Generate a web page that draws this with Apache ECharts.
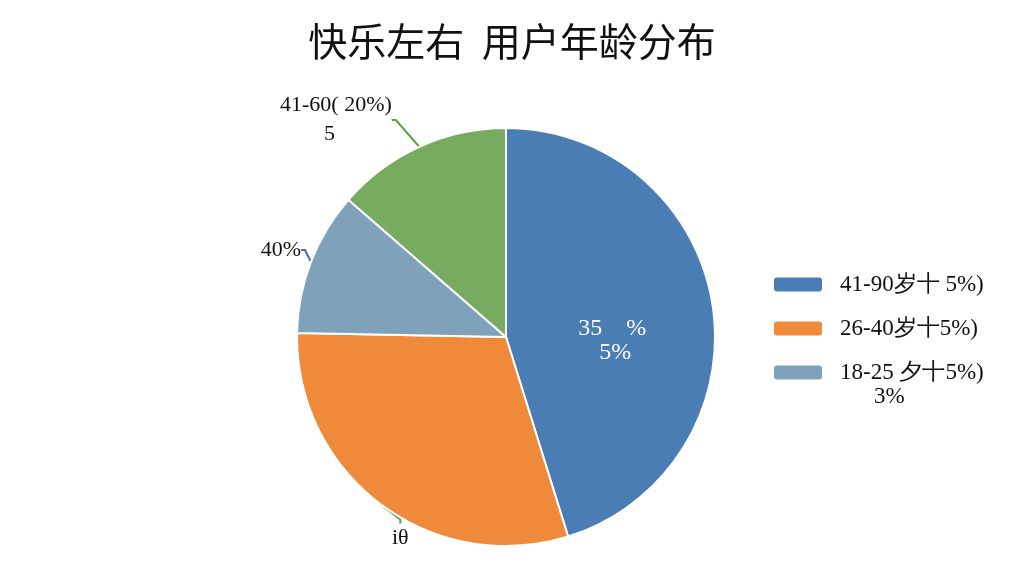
<!DOCTYPE html>
<html>
<head>
<meta charset="utf-8">
<script src="https://cdn.jsdelivr.net/npm/echarts@6/dist/echarts.min.js"></script>
<style>
    html, body { margin: 0; padding: 0; background: #fff; }
    #main { width: 1024px; height: 576px; }
</style>
</head>
<body>
<div id="main"></div>
<script>
    // 数据
    var names = ['41-90岁十 5%)', '26-40岁十5%)', '18-25 夕十5%)', '41-60'];
    var values = [45.2, 30.1, 11.1, 13.6];
    var colors = ['#4a7db4', '#ee8a3a', '#7fa2ba', '#77ab5f'];
    var sliceLabels = ['35    %\n 5%', 'iθ', '40%', '41-60( 20%)\n        5'];
    var legendNames = names.slice(0, 3);

    var chart = echarts.init(document.getElementById('main'));

    // 标签位置（外部标签手动摆放）
    var labelPos = {
        0: { dy: 20 },
        1: { x: 392, y: 538, align: 'left' },
        2: { x: 301, y: 250, align: 'right' },
        3: { x: 280, y: 120, align: 'left' }
    };

    var pieData = values.map(function (v, i) {
        var item = {
            value: v,
            name: names[i],
            itemStyle: { color: colors[i] },
            label: {
                formatter: sliceLabels[i],
                color: '#111',
                fontFamily: 'Liberation Serif',
                fontSize: 22,
                lineHeight: 29
            },
            labelLine: { show: true, length: 10, length2: 4, lineStyle: { color: '#5aa03c', width: 2 } }
        };
        if (i === 0) {
            item.label.position = 'inside';
            item.label.color = '#fff';
            item.label.align = 'center';
            item.label.fontSize = 24;
            item.label.lineHeight = 24;
            item.labelLine = { show: false };
        }
        if (i === 2) {
            item.labelLine.lineStyle.color = '#3f6fb0';
        }
        return item;
    });

    chart.setOption({
        animation: false,
        title: {
            text: '快乐左右  用户年龄分布',
            left: 'center',
            top: 17,
            textStyle: {
                fontFamily: 'Noto Sans CJK SC',
                fontSize: 39,
                fontWeight: 'normal',
                color: '#111'
            }
        },
        legend: {
            data: legendNames,
            orient: 'vertical',
            left: 767,
            top: 268,
            itemWidth: 50,
            itemHeight: 16,
            itemGap: 21,
            icon: 'roundRect',
            textStyle: {
                fontFamily: 'Liberation Serif',
                fontSize: 23,
                color: '#111',
                padding: [0, 0, 0, 12]
            }
        },
        graphic: [{
            type: 'text',
            left: 874,
            top: 385,
            style: { text: '3%', font: '23px "Liberation Serif"', fill: '#111' }
        }],
        series: [{
            type: 'pie',
            center: [506, 337],
            radius: 209,
            startAngle: 90,
            clockwise: true,
            itemStyle: { borderColor: '#fff', borderWidth: 2 },
            label: { position: 'outside' },
            labelLayout: function (params) {
                var p = labelPos[params.dataIndex];
                if (!p) return {};
                if (p.dy) return { dy: p.dy };
                return { x: p.x, y: p.y, align: p.align, verticalAlign: 'middle' };
            },
            data: pieData
        }]
    });
</script>
</body>
</html>
